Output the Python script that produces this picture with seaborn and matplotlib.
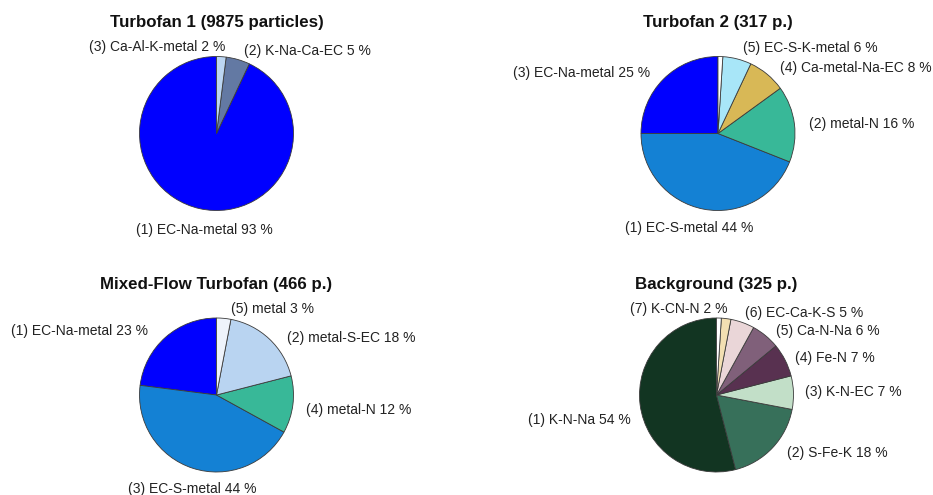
import matplotlib
matplotlib.use("Agg")
import matplotlib.pyplot as plt
import seaborn as sns

# --- data (wedge order = counter-clockwise from 12 o'clock) ---
t1_title = "Turbofan 1 (9875 particles)"
t1_ids = [1, 2, 3]
t1_names = ["EC-Na-metal", "K-Na-Ca-EC", "Ca-Al-K-metal"]
t1_values = [93, 5, 2]
t1_colors = ["#0000ff", "#6379a3", "#bcd6f2"]

t2_title = "Turbofan 2 (317 p.)"
t2_ids = [3, 1, 2, 4, 5, None]
t2_names = ["EC-Na-metal", "EC-S-metal", "metal-N", "Ca-metal-Na-EC", "EC-S-K-metal", None]
t2_values = [25, 44, 16, 8, 6, 1]
t2_colors = ["#0000ff", "#1481d4", "#38b898", "#d8b856", "#a8e6f8", "#ffffff"]

mf_title = "Mixed-Flow Turbofan (466 p.)"
mf_ids = [1, 3, 4, 2, 5]
mf_names = ["EC-Na-metal", "EC-S-metal", "metal-N", "metal-S-EC", "metal"]
mf_values = [23, 44, 12, 18, 3]
mf_colors = ["#0000ff", "#1481d4", "#38b898", "#b9d4f1", "#eef3fb"]

bg_title = "Background (325 p.)"
bg_ids = [1, 2, 3, 4, 5, 6, 7, None]
bg_names = ["K-N-Na", "S-Fe-K", "K-N-EC", "Fe-N", "Ca-N-Na", "EC-Ca-K-S", "K-CN-N", None]
bg_values = [54, 18, 7, 7, 6, 5, 2, 1]
bg_colors = ["#123522", "#37705a", "#c2dfc8", "#583150", "#80607a", "#ead6d8", "#f2dfb2", "#ffffff"]

# label anchors (in pie radii) and alignment, same order as the wedges
t1_lab = [(-0.16, -1.25, "center"), (0.36, 1.07, "left"), (0.11, 1.12, "right")]
t2_lab = [(-0.88, 0.79, "right"), (-0.38, -1.23, "center"), (1.18, 0.12, "left"),
          (0.81, 0.85, "left"), (0.32, 1.11, "left"), None]
mf_lab = [(-0.89, 0.83, "right"), (-0.32, -1.22, "center"), (1.16, -0.19, "left"),
          (0.92, 0.74, "left"), (0.19, 1.12, "left")]
bg_lab = [(-1.11, -0.32, "right"), (0.92, -0.75, "left"), (1.15, 0.04, "left"),
          (1.02, 0.48, "left"), (0.77, 0.83, "left"), (0.37, 1.06, "left"),
          (0.14, 1.12, "right"), None]

sns.set_theme(style="white")
plt.rcParams['font.family'] = ['Liberation Sans', 'DejaVu Sans']

fig = plt.figure(figsize=(9.33, 4.95), dpi=100)

W, H = 933, 495
R = 77  # pie radius in pixels


def pie_axes(cx, cy):
    return fig.add_axes([(cx - R) / W, (H - cy - R) / H, 2 * R / W, 2 * R / H])


def draw_pie(ax, title, ids, names, values, colors, labs):
    ax.pie(values, colors=colors, startangle=90, counterclock=True,
           wedgeprops=dict(edgecolor='#3a3a3a', linewidth=0.6))
    ax.set_xlim(-1, 1)
    ax.set_ylim(-1, 1)
    ax.set_aspect('equal')
    ax.axis('off')
    total = sum(values)
    for i, nm, v, lab in zip(ids, names, values, labs):
        if nm is None:
            continue
        pct = round(100 * v / total)
        ax.text(lab[0], lab[1], f"({i}) {nm} {pct} %", ha=lab[2], va='center',
                fontsize=10, color='#222222', clip_on=False)
    ax.text(0, 1.44, title, ha='center', va='center', fontsize=12.2,
            fontweight='bold', color='#111111', clip_on=False)


draw_pie(pie_axes(216.5, 133.5), t1_title, t1_ids, t1_names, t1_values, t1_colors, t1_lab)
draw_pie(pie_axes(718, 133.5), t2_title, t2_ids, t2_names, t2_values, t2_colors, t2_lab)
draw_pie(pie_axes(216.5, 395), mf_title, mf_ids, mf_names, mf_values, mf_colors, mf_lab)
draw_pie(pie_axes(716.5, 395), bg_title, bg_ids, bg_names, bg_values, bg_colors, bg_lab)

fig.savefig("out.png", dpi=100, facecolor='white')
